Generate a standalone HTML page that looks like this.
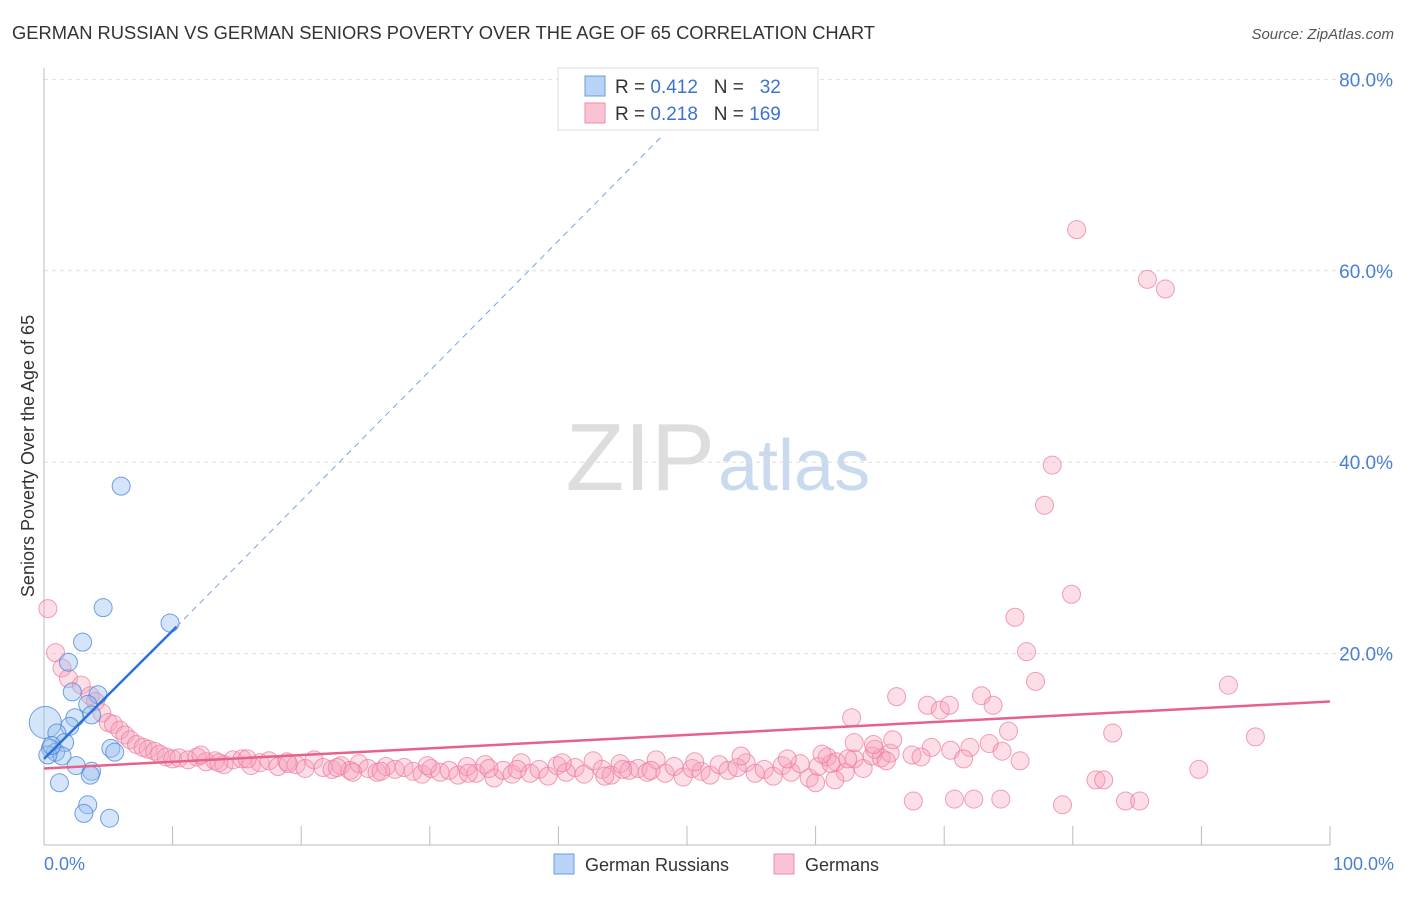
<!DOCTYPE html>
<html><head><meta charset="utf-8"><style>
body{margin:0;background:#fff;font-family:"Liberation Sans",sans-serif;}
svg text{font-family:"Liberation Sans",sans-serif;}
</style></head><body>
<svg width="1406" height="892" xmlns="http://www.w3.org/2000/svg">
<text x="12" y="39" font-size="18" fill="#333" textLength="863" lengthAdjust="spacingAndGlyphs">GERMAN RUSSIAN VS GERMAN SENIORS POVERTY OVER THE AGE OF 65 CORRELATION CHART</text>
<text x="1394" y="39" font-size="15" fill="#555" text-anchor="end" font-style="italic">Source: ZipAtlas.com</text>
<text x="715" y="490" font-size="96" fill="#ddd" text-anchor="end" font-family="Liberation Serif">ZIP</text>
<text x="718" y="490" font-size="72" fill="#c9d9ee">atlas</text>
<g id="grid"></g>
<g id="axes"></g>
<g id="marks"></g>
<text transform="translate(34,456) rotate(-90)" font-size="18" fill="#333" text-anchor="middle">Seniors Poverty Over the Age of 65</text>
<text x="44" y="870" font-size="18" fill="#4a7fd4">0.0%</text>
<text x="1394" y="870" font-size="18" fill="#4a7fd4" text-anchor="end">100.0%</text>
<g>
<rect x="558" y="68" width="260" height="62" fill="#fff" stroke="#ddd"/>
<rect x="585" y="76" width="20" height="20" fill="#b8d3f5" stroke="#6a9de0"/>
<rect x="585" y="103" width="20" height="20" fill="#f9c3d3" stroke="#ee8eaa"/>
<text x="615" y="93" font-size="19" fill="#333" xml:space="preserve">R = <tspan fill="#3b73d0">0.412</tspan>   N =   <tspan fill="#3b73d0">32</tspan></text>
<text x="615" y="120" font-size="19" fill="#333" xml:space="preserve">R = <tspan fill="#3b73d0">0.218</tspan>   N = <tspan fill="#3b73d0">169</tspan></text>
</g>
<g>
<rect x="554" y="854" width="20" height="20" fill="#b8d3f5" stroke="#6a9de0"/>
<text x="585" y="871" font-size="18" fill="#333">German Russians</text>
<rect x="774" y="854" width="20" height="20" fill="#f9c3d3" stroke="#ee8eaa"/>
<text x="805" y="871" font-size="18" fill="#333">Germans</text>
</g>
</svg>
<script>
const yTicks=[20,40,60,80];
const yTickLabels=["20.0%","40.0%","60.0%","80.0%"];
const xTicks=[0,10,20,30,40,50,60,70,80,90,100];
const blueX=[6.0,4.6,9.8,3.0,1.9,2.2,4.2,3.4,3.7,2.4,2.0,0.1,1.0,1.6,0.5,0.9,1.4,5.2,5.5,2.5,3.7,3.6,1.2,3.4,3.1,5.1,0.3,0.6];
const blueY=[37.5,24.8,23.2,21.2,19.1,16.0,15.7,14.7,13.6,13.3,12.4,12.8,11.7,10.7,10.1,9.7,9.3,10.1,9.7,8.3,7.7,7.3,6.5,4.2,3.3,2.8,9.4,10.4];
const blueR=[9,9,9,9,9,9,9,9,9,9,9,16,9,9,9,9,9,9,9,9,9,9,9,9,9,9,9,9];
const pinkCurveX=[0.3,0.9,1.4,1.9,2.9,3.6,4.0,4.5,5.0,5.4,5.9,6.3,6.7,7.2,7.7,8.1,8.6,9.0,9.5,10.0];
const pinkCurveY=[24.7,20.1,18.5,17.4,16.7,15.6,15.0,13.8,12.8,12.6,12.0,11.5,11.0,10.5,10.2,10.0,9.8,9.5,9.2,9.0];
const pinkBandX=[10.5,11.2,11.9,12.6,13.3,14.0,14.7,15.4,16.1,16.8,17.5,18.2,18.9,19.6,20.3,21.0,21.7,22.4,23.1,23.8,24.5,25.2,25.9,26.6,27.3,28.0,28.7,29.4,30.1,30.8,31.5,32.2,32.9,33.6,34.3,35.0,35.7,36.4,37.1,37.8,38.5,39.2,39.9,40.6,41.3,42.0,42.7,43.4,44.1,44.8,45.5,46.2,46.9,47.6,48.3,49.0,49.7,50.4,51.1,51.8];
const pinkBandY=[9.1,8.9,9.2,8.7,8.8,8.4,8.9,9.0,8.3,8.6,8.8,8.2,8.7,8.4,8.0,8.9,8.1,7.9,8.3,7.8,8.5,8.0,7.6,8.2,7.9,8.1,7.7,7.4,8.0,7.6,7.8,7.3,8.2,7.5,8.4,7.0,7.8,7.4,8.6,7.5,7.9,7.2,8.3,7.6,8.1,7.4,8.8,7.9,7.3,8.5,7.8,8.0,7.6,8.9,7.5,8.2,7.1,8.0,7.7,7.3];
const pinkBand2X=[52.5,53.2,53.9,54.6,55.3,56.0,56.7,57.4,58.1,58.8,59.5,60.2,60.9,61.6,62.3,63.0,63.7,64.4,65.1,65.8];
const pinkBand2Y=[8.4,7.8,8.1,8.6,7.5,7.9,7.2,8.3,7.6,8.5,7.0,8.2,9.2,8.7,7.6,9.0,8.0,9.3,9.1,9.6];
const pinkLayerX=[12.2,15.8,19.0,22.8,26.2,29.8,33.0,36.8,40.3,43.6,47.2,50.6,54.2,57.8,61.2,64.6,13.6,24.0,34.6,45.0];
const pinkLayerY=[9.4,9.0,8.5,8.1,7.7,8.3,7.5,7.9,8.6,7.2,7.8,8.7,9.3,9.0,8.5,10.0,8.6,7.6,8.0,7.9];
const pinkOutX=[80.3,85.8,87.2,78.4,77.8,79.9,75.5,76.4,77.1,92.1,66.3,72.9,68.7,69.7,70.4,73.8,62.8,75.0,83.1,94.2,67.6,70.8,72.3,74.4,79.2,84.1,85.2,81.8,82.4,89.8,75.9];
const pinkOutY=[64.3,59.1,58.1,39.7,35.5,26.2,23.8,20.2,17.1,16.7,15.5,15.6,14.6,14.1,14.6,14.6,13.3,11.9,11.7,11.3,4.6,4.8,4.8,4.8,4.2,4.6,4.6,6.8,6.8,7.9,8.8];
const pinkRightX=[60.0,61.5,63.0,64.5,66.0,67.5,69.0,70.5,72.0,73.5,74.5,71.5,68.2,65.5,62.5,60.5];
const pinkRightY=[6.5,6.8,10.7,10.5,11.0,9.4,10.2,9.9,10.2,10.6,9.8,9.0,9.2,8.8,9.0,9.5];
const pinkX=[].concat(pinkCurveX,pinkBandX,pinkBand2X,pinkLayerX,pinkOutX,pinkRightX);
const pinkY=[].concat(pinkCurveY,pinkBandY,pinkBand2Y,pinkLayerY,pinkOutY,pinkRightY);
const X0=44,X1=1330,Y0=845,YS=9.57;
const xs=v=>X0+(X1-X0)*v/100, ys=v=>Y0-YS*v;
const NS="http://www.w3.org/2000/svg";
function mk(t,a,p){const e=document.createElementNS(NS,t);for(const k in a)e.setAttribute(k,a[k]);p.appendChild(e);return e;}
const grid=document.getElementById('grid'),axes=document.getElementById('axes'),marks=document.getElementById('marks');
yTicks.forEach((v,i)=>{
 const l=mk('line',{x1:44,x2:1393,y1:ys(v),y2:ys(v),stroke:'#ddd','stroke-dasharray':'4,4'},grid);
 
 
 const t=mk('text',{x:1393,y:ys(v)+7,'font-size':19,fill:'#4a7fd4','text-anchor':'end'},grid);
 t.textContent=yTickLabels[i];
 
 
});
const yax=mk('line',{x1:44,x2:44,y1:68,y2:845,stroke:'#bbb'},axes);


const xax=mk('line',{x1:44,x2:1330,y1:845,y2:845,stroke:'#bbb'},axes);


xTicks.forEach(v=>{
 const l=mk('line',{x1:xs(v),x2:xs(v),y1:826,y2:845,stroke:'#bbb'},axes);
 
 
});
pinkX.forEach((x,i)=>{
 const c=mk('circle',{cx:xs(x),cy:ys(pinkY[i]),r:9,fill:'rgba(246,160,186,0.35)',stroke:'rgba(236,120,155,0.7)','stroke-width':1},marks);
 
 
});
blueX.forEach((x,i)=>{
 const c=mk('circle',{cx:xs(x),cy:ys(blueY[i]),r:blueR[i],fill:'rgba(150,190,240,0.4)',stroke:'rgba(70,130,215,0.75)','stroke-width':1},marks);
 
 
});
const pt=mk('line',{x1:xs(0),y1:ys(8.0),x2:xs(100),y2:ys(15.0),stroke:'#e8618c','stroke-width':2.5},marks);


const bt=mk('line',{x1:xs(0),y1:ys(9.0),x2:xs(10.3),y2:ys(22.8),stroke:'#2b72d6','stroke-width':2.5},marks);


const bd=mk('line',{x1:xs(10.3),y1:ys(22.8),x2:xs(48),y2:ys(74),stroke:'#7ba3e0','stroke-width':1,'stroke-dasharray':'6,5'},marks);


</script>
</body></html>
